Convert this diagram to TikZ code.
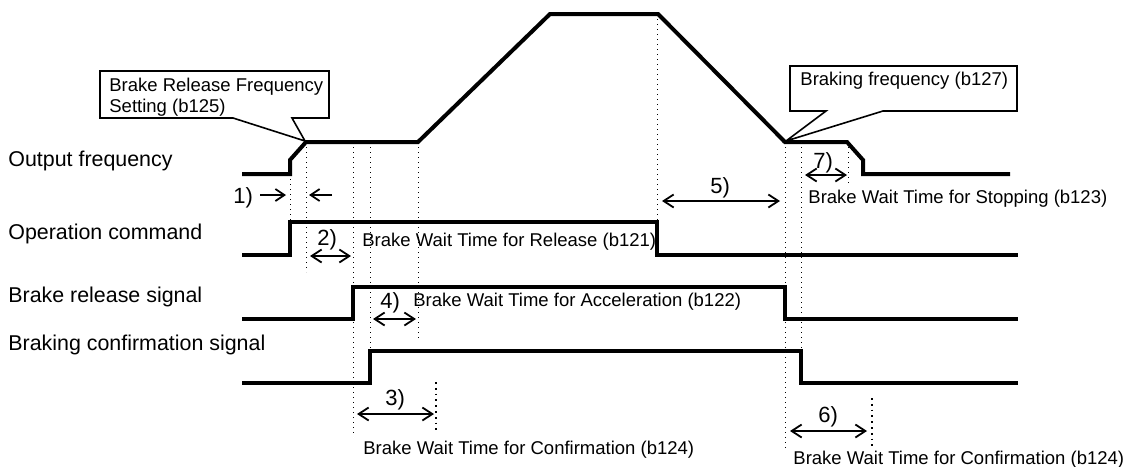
\documentclass[tikz,border=0pt]{standalone}
\usepackage{fontspec}
\setmainfont{Liberation Sans}
\usetikzlibrary{arrows.meta, positioning, calc}

\begin{document}
\begin{tikzpicture}[x=0.5pt, y=-0.5pt,
    wave/.style={line width=2pt, line join=miter},
    guide/.style={dotted, line width=0.5pt},
    guidebold/.style={dotted, line width=0.9pt},
    callout/.style={line width=0.8pt, line join=miter},
    span/.style={line width=0.9pt, {Straight Barb[length=5pt,width=6.5pt]}-{Straight Barb[length=5pt,width=6.5pt]}},
    pointer/.style={line width=0.9pt, -{Straight Barb[length=4.5pt,width=6pt]}},
    siglabel/.style={font=\fontsize{10.7}{12}\selectfont, inner sep=0pt, anchor=base west},
    note/.style={font=\fontsize{9.25}{10.5}\selectfont, inner sep=0pt, anchor=base west},
    stepnum/.style={font=\fontsize{11}{13}\selectfont, inner sep=0pt, anchor=base west}]
                \useasboundingbox (0,0) rectangle (1128,466);
                % signal names
                \node[siglabel] (lblfreq) at (8,166) {Output frequency};
                \node[siglabel] (lblrun) at (8,239) {Operation command};
                \node[siglabel] (lblrel) at (8,302) {Brake release signal};
                \node[siglabel] (lblconf) at (8,350) {Braking confirmation signal};
                % waveforms
                \draw[wave] (242,174) -- (290,174) -- (290,160) -- (306,142) -- (418,142) -- (550,14)
                    -- (658,14) -- (785,142) -- (847,142) -- (863,160) -- (863,174) -- (1010,174);
                \draw[wave] (242,255) -- (290,255) -- (290,222) -- (657,222) -- (657,255) -- (1018,255);
                \draw[wave] (242,319) -- (353,319) -- (353,287) -- (785,287) -- (785,319) -- (1018,319);
                \draw[wave] (242,383) -- (370,383) -- (370,351) -- (801,351) -- (801,383) -- (1018,383);
                % timing guides
                \draw[guide] (290,174) -- (290,222);
                \draw[guide] (306,142) -- (306,272);
                \draw[guide] (353,142) -- (353,433);
                \draw[guide] (370,142) -- (370,351);
                \draw[guide] (418,142) -- (418,338);
                \draw[guidebold] (436,382) -- (436,432);
                \draw[guide] (657,14) -- (657,222);
                \draw[guide] (785,142) -- (785,448);
                \draw[guide] (801,142) -- (801,351);
                \draw[guide] (848,142) -- (848,183);
                \draw[guidebold] (872,398) -- (872,448);
                % callouts
                \node[note] (relfreq) at (109,91) {Brake Release Frequency};
                \node[note] (relfreqb) at (109,112) {Setting (b125)};
                \coordinate (reltip) at (305,141);
                \draw[callout] (233,118) -- (reltip) -- (292,118) -- (329,118) -- (329,71) -- (100,71) -- (100,118) -- cycle;
                \node[note] (brkfreq) at (800,85) {Braking frequency (b127)};
                \coordinate (brktip) at (786,141);
                \draw[callout] (826,111) -- (brktip) -- (883,111) -- (1017,111) -- (1017,66) -- (790,66) -- (790,111) -- cycle;
                % 1)
                \node[stepnum] (n1) at (233,203) {1)};
                \coordinate (a1) at (260,195);
                \coordinate (b1) at (286,195);
                \coordinate (a1r) at (332,195);
                \coordinate (b1r) at (309,195);
                \draw[pointer] (a1) -- (b1);
                \draw[pointer] (a1r) -- (b1r);
                % 2)
                \node[stepnum] (n2) at (317,245) {2)};
                \coordinate (a2) at (310,256);
                \coordinate (b2) at (351,256);
                \draw[span] (a2) -- (b2);
                \node[note] (t2) at (362,246) {Brake Wait Time for Release (b121)};
                % 4)
                \node[stepnum] (n4) at (380,308) {4)};
                \coordinate (a4) at (373,319);
                \coordinate (b4) at (416,319);
                \draw[span] (a4) -- (b4);
                \node[note] (t4) at (413,306) {Brake Wait Time for Acceleration (b122)};
                % 3)
                \node[stepnum] (n3) at (385,405) {3)};
                \coordinate (a3) at (357,414);
                \coordinate (b3) at (434,414);
                \draw[span] (a3) -- (b3);
                \node[note] (t3) at (363,454) {Brake Wait Time for Confirmation (b124)};
                % 5)
                \node[stepnum] (n5) at (710,193) {5)};
                \coordinate (a5) at (662,201);
                \coordinate (b5) at (780,201);
                \draw[span] (a5) -- (b5);
                % 7)
                \node[stepnum] (n7) at (813,168) {7)};
                \coordinate (a7) at (805,175);
                \coordinate (b7) at (847,175);
                \draw[span] (a7) -- (b7);
                \node[note] (t7) at (808,203) {Brake Wait Time for Stopping (b123)};
                % 6)
                \node[stepnum] (n6) at (818,422) {6)};
                \coordinate (a6) at (790,431);
                \coordinate (b6) at (867,431);
                \draw[span] (a6) -- (b6);
                \node[note] (t6) at (793,464) {Brake Wait Time for Confirmation (b124)};
            \end{tikzpicture}
\end{document}
